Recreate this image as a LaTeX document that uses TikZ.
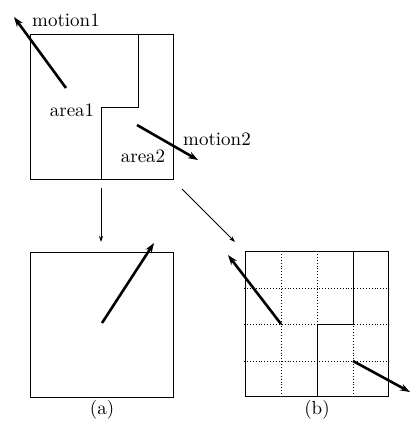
\documentclass[tikz,border=0pt]{standalone}
\usetikzlibrary{arrows.meta}
\begin{document}
\begin{tikzpicture}[x=0.5pt,y=-0.5pt,
  box/.style={draw,line width=0.5pt,inner sep=0pt,minimum width=71.5pt,minimum height=72.5pt},
  border/.style={line width=0.5pt},
  grid/.style={line width=0.45pt,densely dotted},
  motion/.style={line width=1.3pt,-{Stealth[length=5pt,width=3.5pt]}},
  link/.style={line width=0.4pt,-{Stealth[length=3pt,width=2pt]}},
  lbl/.style={font=\fontsize{9.5}{11}\selectfont,inner sep=0pt}]
\useasboundingbox (0,0) rectangle (411,423);
% top box
\node[box] (top) at (101.5,107) {};
\coordinate (t1) at (138,34);
\coordinate (t2) at (138,107);
\coordinate (t3) at (101,107);
\coordinate (t4) at (101,180);
\draw[border] (t1) -- (t2) -- (t3) -- (t4);
\node[lbl] (area1) at (72,110) {area1};
\node[lbl] (area2) at (143,156) {area2};
\node[lbl] (motion1) at (66,20) {motion1};
\node[lbl] (motion2) at (217,139) {motion2};
\coordinate (m1s) at (66,88);
\coordinate (m1e) at (14,17);
\coordinate (m2s) at (137,125);
\coordinate (m2e) at (198,160);
\draw[motion] (m1s) -- (m1e);
\draw[motion] (m2s) -- (m2e);
% connectors
\coordinate (c1s) at (101,188);
\coordinate (c1e) at (101,242);
\coordinate (c2s) at (182,189);
\coordinate (c2e) at (235,242);
\draw[link] (c1s) -- (c1e);
\draw[link] (c2s) -- (c2e);
% box (a)
\node[box] (boxa) at (101.5,324.5) {};
\coordinate (as) at (102,323);
\coordinate (ae) at (154,243);
\draw[motion] (as) -- (ae);
\node[lbl] (la) at (102,410) {(a)};
% box (b)
\node[box] (boxb) at (316.5,323.5) {};
\foreach \x in {281,317,353} \draw[grid] (\x,251) -- (\x,396);
\foreach \y in {288,324,361} \draw[grid] (244,\y) -- (389,\y);
\coordinate (b1) at (353,251);
\coordinate (b2) at (353,324);
\coordinate (b3) at (317,324);
\coordinate (b4) at (317,396);
\draw[border] (b1) -- (b2) -- (b3) -- (b4);
\coordinate (bs1) at (281,324);
\coordinate (be1) at (228,255);
\coordinate (bs2) at (353,361);
\coordinate (be2) at (410,392);
\draw[motion] (bs1) -- (be1);
\draw[motion] (bs2) -- (be2);
\node[lbl] (lb) at (317,410) {(b)};
\end{tikzpicture}
\end{document}
